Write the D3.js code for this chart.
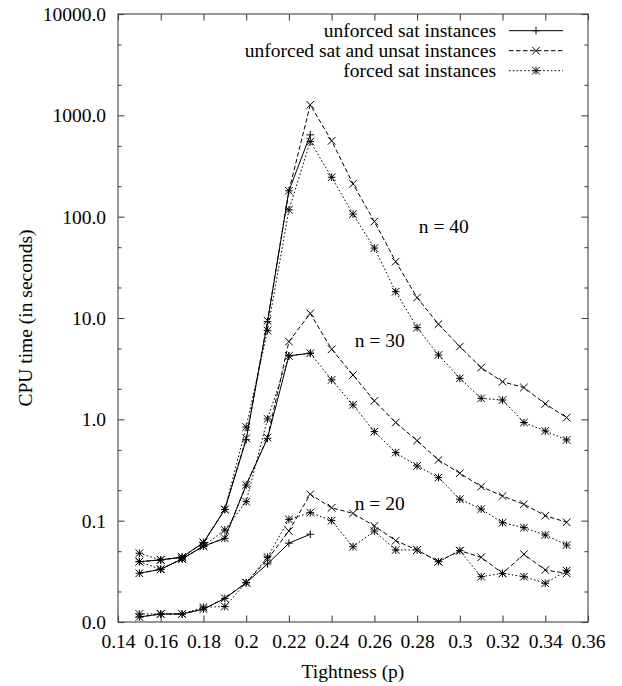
<!DOCTYPE html>
<html><head><meta charset="utf-8">
<script src="https://cdn.jsdelivr.net/npm/d3@7"></script>
<style>body{margin:0;background:#fff}svg text{font-family:"Liberation Serif","Times New Roman",serif;fill:#000}</style>
</head><body><svg id="c" width="622" height="686"></svg>
<script>
// ---- data ----
const tightness = [0.15,0.16,0.17,0.18,0.19,0.20,0.21,0.22,0.23,0.24,0.25,0.26,0.27,0.28,0.29,0.30,0.31,0.32,0.33,0.34,0.35];
const satTightness = [0.15,0.16,0.17,0.18,0.19,0.20,0.21,0.22,0.23];

const n20Sat    = [0.0112,0.012,0.012,0.0134,0.0171,0.0244,0.0374,0.060,0.0735];
const n20All    = [0.0112,0.012,0.012,0.0134,0.0171,0.0244,0.0416,0.079,0.182,0.134,0.118,0.0887,0.0635,0.0514,0.0394,0.0506,0.0435,0.0302,0.0466,0.0326,0.0302];
const n20Forced = [0.012,0.012,0.012,0.014,0.0142,0.0244,0.0436,0.103,0.120,0.100,0.0553,0.079,0.0514,0.0514,0.0394,0.0506,0.028,0.0302,0.028,0.0241,0.0321];

const n30Sat    = [0.0303,0.0331,0.042,0.056,0.067,0.225,0.65,4.23,4.49];
const n30All    = [0.0303,0.0331,0.042,0.056,0.067,0.225,0.66,5.85,11.1,4.92,2.74,1.52,0.93,0.617,0.397,0.294,0.217,0.175,0.145,0.112,0.0964];
const n30Forced = [0.0394,0.0331,0.0418,0.0562,0.081,0.154,1.01,4.23,4.49,2.45,1.39,0.756,0.47,0.347,0.266,0.163,0.13,0.0955,0.0853,0.0722,0.0575];

const n40Sat    = [0.0394,0.041,0.0436,0.0607,0.129,0.63,9.2,180,642];
const n40All    = [0.0394,0.041,0.0436,0.0607,0.129,0.65,9.4,180,1270,560,211,89.5,36,15.9,8.69,5.22,3.24,2.35,2.06,1.42,1.04];
const n40Forced = [0.0477,0.041,0.0436,0.0607,0.129,0.84,7.5,117,551,245,106,49,18.2,8.04,4.32,2.54,1.61,1.55,0.93,0.768,0.626];

const xTicks = [0.14,0.16,0.18,0.2,0.22,0.24,0.26,0.28,0.3,0.32,0.34,0.36];
const xTickLabels = ["0.14","0.16","0.18","0.2","0.22","0.24","0.26","0.28","0.3","0.32","0.34","0.36"];
const yTicks = [0.01,0.1,1,10,100,1000,10000];
const yTickLabels = ["0.0","0.1","1.0","10.0","100.0","1000.0","10000.0"];
const yMinorTicks = [0.02,0.05,0.2,0.5,2,5,20,50,200,500,2000,5000];

const seriesNames = ["unforced sat instances","unforced sat and unsat instances","forced sat instances"];
const groupLabels = ["n = 40","n = 30","n = 20"];

// ---- drawing ----
const svg = d3.select("#c");
const L = 118, R = 588, T = 14, B = 622;
const x = d3.scaleLinear().domain([0.14,0.36]).range([L,R]);
const y = d3.scaleLog().domain([0.01,10000]).range([B,T]);

const styles = [
  {dash:null, marker:"plus"},
  {dash:"4.5,2.5", marker:"cross"},
  {dash:"1.6,2.2", marker:"star"}
];
const s = 3.8;
const markerPath = {
  plus: `M${-s},0H${s}M0,${-s}V${s}`,
  cross: `M${-s},${-s}L${s},${s}M${-s},${s}L${s},${-s}`,
  star: `M${-s},0H${s}M0,${-s}V${s}M${-s},${-s}L${s},${s}M${-s},${s}L${s},${-s}`
};

// frame
svg.append("rect").attr("x",L).attr("y",T).attr("width",R-L).attr("height",B-T)
  .attr("fill","none").attr("stroke","#444").attr("stroke-width",1.1);

// axes via d3 axis, ticks drawn inward
const fmtX = (d,i) => xTickLabels[i];
const fmtY = (d,i) => yTickLabels[i];
const ax = svg.append("g").attr("transform",`translate(0,${B})`)
  .call(d3.axisBottom(x).tickValues(xTicks).tickFormat(fmtX).tickSizeInner(-6.5).tickSizeOuter(0).tickPadding(19));
const axT = svg.append("g").attr("transform",`translate(0,${T})`)
  .call(d3.axisTop(x).tickValues(xTicks).tickFormat("").tickSizeInner(-6.5).tickSizeOuter(0));
const ay = svg.append("g").attr("transform",`translate(${L},0)`)
  .call(d3.axisLeft(y).tickValues(yTicks).tickFormat(fmtY).tickSizeInner(-6.5).tickSizeOuter(0).tickPadding(19));
const ayR = svg.append("g").attr("transform",`translate(${R},0)`)
  .call(d3.axisRight(y).tickValues(yTicks).tickFormat("").tickSizeInner(-6.5).tickSizeOuter(0));
const ayM = svg.append("g").attr("transform",`translate(${L},0)`)
  .call(d3.axisLeft(y).tickValues(yMinorTicks).tickFormat("").tickSizeInner(-3.5).tickSizeOuter(0));
const ayMR = svg.append("g").attr("transform",`translate(${R},0)`)
  .call(d3.axisRight(y).tickValues(yMinorTicks).tickFormat("").tickSizeInner(-3.5).tickSizeOuter(0));
[ax,axT,ay,ayR,ayM,ayMR].forEach(g=>{
  g.select(".domain").remove();
  g.selectAll("line").attr("stroke","#444").attr("stroke-width",1.1);
  g.selectAll("text").attr("font-size",19.5).attr("font-family","Liberation Serif, serif").attr("fill","#000");
});
ax.selectAll("text").attr("dy",0).attr("y",26);
ay.selectAll("text").attr("dy","0.34em").attr("x",-12);

// axis titles
svg.append("text").attr("x",(L+R)/2).attr("y",678).attr("text-anchor","middle")
  .attr("font-size",19.5).text("Tightness (p)");
svg.append("text").attr("transform",`translate(32,${(T+B)/2}) rotate(-90)`).attr("text-anchor","middle")
  .attr("font-size",19.5).text("CPU time (in seconds)");

// series
const groups = [
  [ {xs:satTightness, v:n40Sat}, {xs:tightness, v:n40All}, {xs:tightness, v:n40Forced} ],
  [ {xs:satTightness, v:n30Sat}, {xs:tightness, v:n30All}, {xs:tightness, v:n30Forced} ],
  [ {xs:satTightness, v:n20Sat}, {xs:tightness, v:n20All}, {xs:tightness, v:n20Forced} ]
];
const line = d3.line().x(d=>x(d[0])).y(d=>y(d[1]));
const plot = svg.append("g");
groups.forEach(g=>{
  g.forEach((ser,si)=>{
    const pts = ser.xs.map((p,i)=>[p,ser.v[i]]);
    const st = styles[si];
    plot.append("path").attr("d",line(pts)).attr("fill","none").attr("stroke","#000")
      .attr("stroke-width",1).attr("stroke-dasharray",st.dash);
    plot.selectAll(null).data(pts).enter().append("path")
      .attr("transform",d=>`translate(${x(d[0])},${y(d[1])})`)
      .attr("d",markerPath[st.marker]).attr("fill","none").attr("stroke","#000").attr("stroke-width",1);
  });
});

// group labels
const labelPos = [[0.2925,233],[0.2625,347],[0.2625,510]];
groupLabels.forEach((t,i)=>{
  svg.append("text").attr("x",x(labelPos[i][0])).attr("y",labelPos[i][1]).attr("text-anchor","middle")
    .attr("font-size",19.5).text(t);
});

// legend
const legY = [30.7,50.7,70.7];
seriesNames.forEach((name,i)=>{
  const st = styles[i];
  svg.append("text").attr("x",496).attr("y",legY[i]+5.8).attr("text-anchor","end")
    .attr("font-size",19.5).text(name);
  svg.append("line").attr("x1",509).attr("x2",563).attr("y1",legY[i]).attr("y2",legY[i])
    .attr("stroke","#000").attr("stroke-width",1).attr("stroke-dasharray",st.dash);
  svg.append("path").attr("transform",`translate(536,${legY[i]})`).attr("d",markerPath[st.marker])
    .attr("fill","none").attr("stroke","#000").attr("stroke-width",1);
});
</script></body></html>
